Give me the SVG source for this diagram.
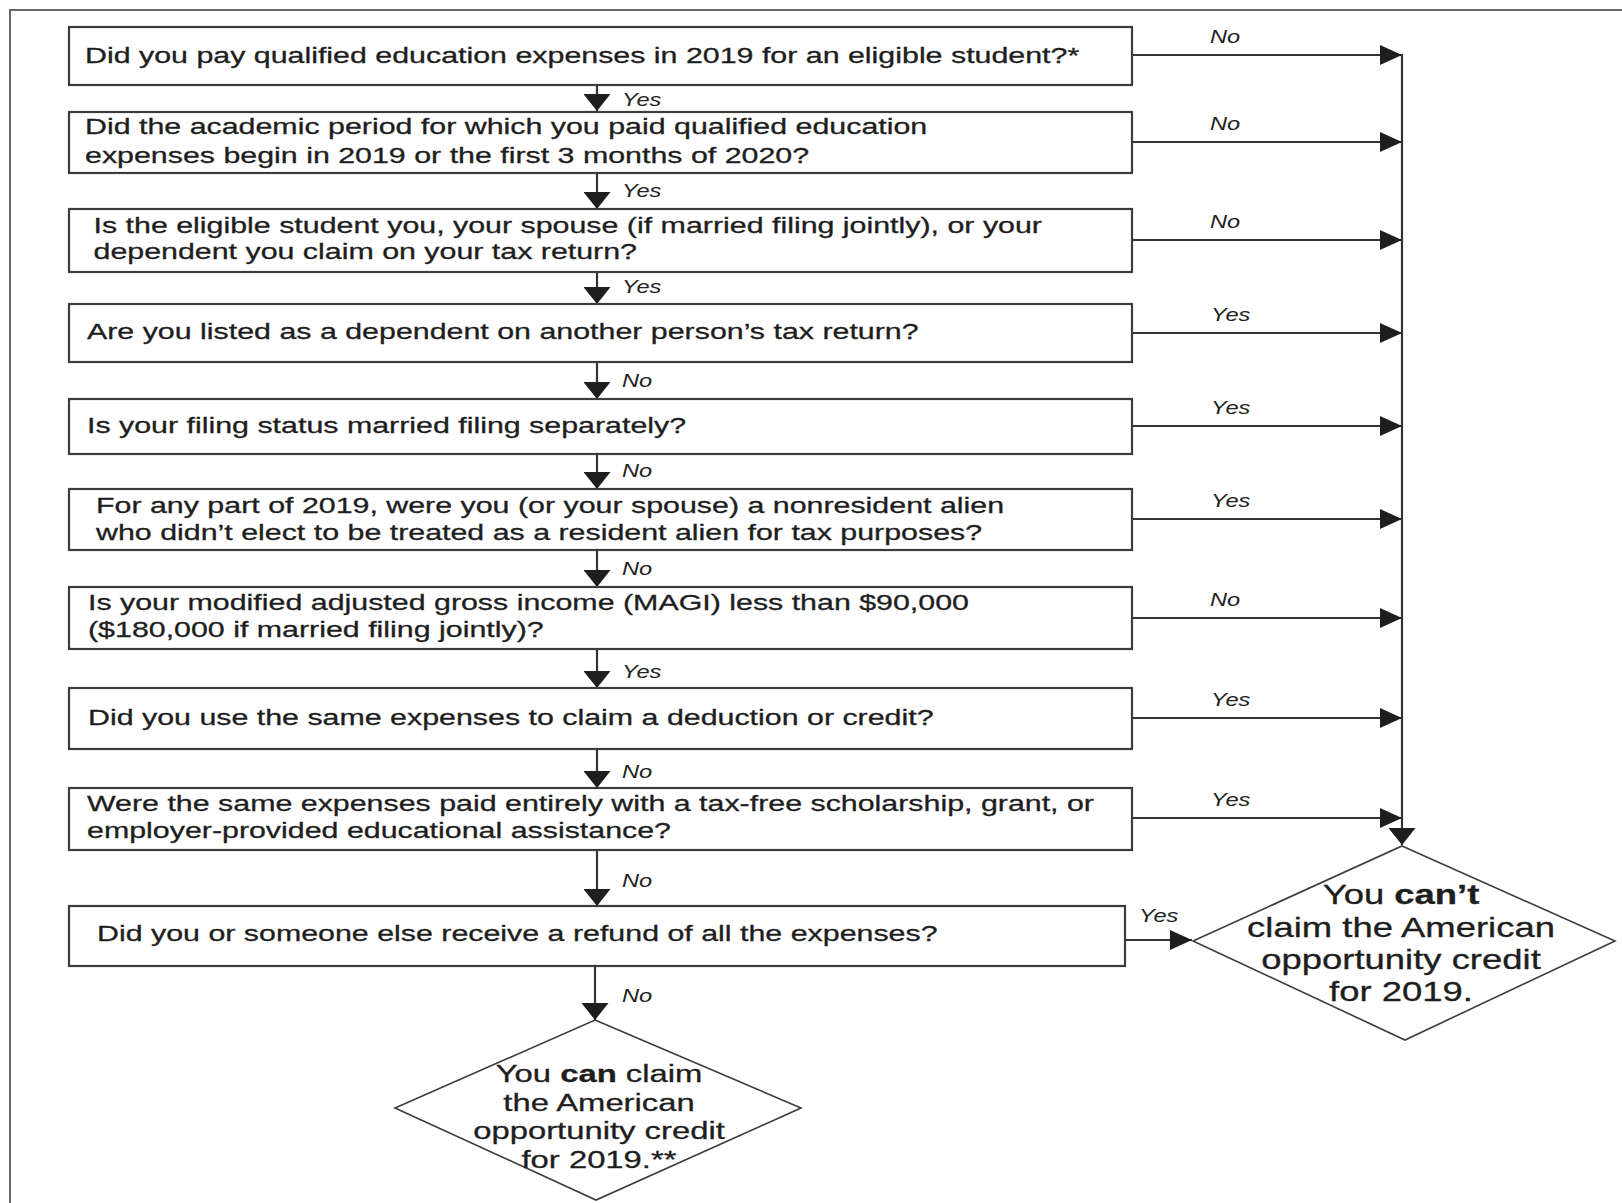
<svg xmlns="http://www.w3.org/2000/svg" width="1622" height="1203" viewBox="0 0 1622 1203">
<style>
.box{fill:#fff;stroke:#3c3c3c;stroke-width:2.2}
.dia{fill:#fff;stroke:#3c3c3c;stroke-width:1.6}
.t{font-family:"Liberation Sans",Arial,Helvetica,sans-serif;font-size:22.5px;fill:#1e1e1e;stroke:#1e1e1e;stroke-width:0.3}
.d{font-family:"Liberation Sans",Arial,Helvetica,sans-serif;fill:#1e1e1e;stroke:#1e1e1e;stroke-width:0.3;text-anchor:middle}
.lbl{font-family:"Liberation Sans",Arial,Helvetica,sans-serif;font-size:17.5px;font-style:italic;fill:#222}
.c{stroke:#333;stroke-width:2.2;fill:none}
.frame{stroke:#666;stroke-width:2;fill:none}
</style>
<defs>
<marker id="aR" markerUnits="userSpaceOnUse" markerWidth="23" markerHeight="20" refX="22" refY="10" orient="auto"><path d="M0,0 L22,10 L0,20 Z" fill="#1e1e1e"/></marker>
<marker id="aD" markerUnits="userSpaceOnUse" markerWidth="18" markerHeight="27" refX="17" refY="13.5" orient="auto"><path d="M0,0 L17,13.5 L0,27 Z" fill="#1e1e1e"/></marker>
</defs>
<path class="frame" d="M10,1203 V10 H1622"/>

<g id="connectors">
<path class="c" d="M597,85 V111" marker-end="url(#aD)"/>
<path class="c" d="M597,173 V209" marker-end="url(#aD)"/>
<path class="c" d="M597,272 V304" marker-end="url(#aD)"/>
<path class="c" d="M597,362 V399" marker-end="url(#aD)"/>
<path class="c" d="M597,454 V489" marker-end="url(#aD)"/>
<path class="c" d="M597,550 V587" marker-end="url(#aD)"/>
<path class="c" d="M597,649 V688" marker-end="url(#aD)"/>
<path class="c" d="M597,749 V788" marker-end="url(#aD)"/>
<path class="c" d="M597,850 V906" marker-end="url(#aD)"/>
<path class="c" d="M595,966 V1020" marker-end="url(#aD)"/>
<path class="c" d="M1132,55 H1402" marker-end="url(#aR)"/>
<path class="c" d="M1132,142 H1402" marker-end="url(#aR)"/>
<path class="c" d="M1132,240 H1402" marker-end="url(#aR)"/>
<path class="c" d="M1132,333 H1402" marker-end="url(#aR)"/>
<path class="c" d="M1132,426 H1402" marker-end="url(#aR)"/>
<path class="c" d="M1132,519 H1402" marker-end="url(#aR)"/>
<path class="c" d="M1132,618 H1402" marker-end="url(#aR)"/>
<path class="c" d="M1132,718 H1402" marker-end="url(#aR)"/>
<path class="c" d="M1132,818 H1402" marker-end="url(#aR)"/>
<path class="c" d="M1402,54 V845" marker-end="url(#aD)"/>
<path class="c" d="M1125,940 H1192" marker-end="url(#aR)"/>
<text class="lbl" transform="translate(622,106) scale(1.35,1)">Yes</text>
<text class="lbl" transform="translate(622,197) scale(1.35,1)">Yes</text>
<text class="lbl" transform="translate(622,293) scale(1.35,1)">Yes</text>
<text class="lbl" transform="translate(622,387) scale(1.35,1)">No</text>
<text class="lbl" transform="translate(622,477) scale(1.35,1)">No</text>
<text class="lbl" transform="translate(622,575) scale(1.35,1)">No</text>
<text class="lbl" transform="translate(622,678) scale(1.35,1)">Yes</text>
<text class="lbl" transform="translate(622,778) scale(1.35,1)">No</text>
<text class="lbl" transform="translate(622,887) scale(1.35,1)">No</text>
<text class="lbl" transform="translate(622,1002) scale(1.35,1)">No</text>
<text class="lbl" transform="translate(1210,43) scale(1.35,1)">No</text>
<text class="lbl" transform="translate(1210,130) scale(1.35,1)">No</text>
<text class="lbl" transform="translate(1210,228) scale(1.35,1)">No</text>
<text class="lbl" transform="translate(1211,321) scale(1.35,1)">Yes</text>
<text class="lbl" transform="translate(1211,414) scale(1.35,1)">Yes</text>
<text class="lbl" transform="translate(1211,507) scale(1.35,1)">Yes</text>
<text class="lbl" transform="translate(1210,606) scale(1.35,1)">No</text>
<text class="lbl" transform="translate(1211,706) scale(1.35,1)">Yes</text>
<text class="lbl" transform="translate(1211,806) scale(1.35,1)">Yes</text>
<text class="lbl" transform="translate(1139,922) scale(1.35,1)">Yes</text>
</g>

<g id="q1"><rect class="box" x="69" y="27" width="1063" height="58"/>
<text class="t" transform="translate(85,62.7) scale(1.35,1)">Did you pay qualified education expenses in 2019 for an eligible student?*</text></g>
<g id="q2"><rect class="box" x="69" y="112" width="1063" height="61"/>
<text class="t" transform="translate(85,134.3) scale(1.35,1)">Did the academic period for which you paid qualified education</text>
<text class="t" transform="translate(85,162.5) scale(1.35,1)">expenses begin in 2019 or the first 3 months of 2020?</text></g>
<g id="q3"><rect class="box" x="69" y="209" width="1063" height="63"/>
<text class="t" transform="translate(93.5,232.7) scale(1.35,1)">Is the eligible student you, your spouse (if married filing jointly), or your</text>
<text class="t" transform="translate(93.5,259.3) scale(1.35,1)">dependent you claim on your tax return?</text></g>
<g id="q4"><rect class="box" x="69" y="304" width="1063" height="58"/>
<text class="t" transform="translate(87,339.3) scale(1.35,1)">Are you listed as a dependent on another person’s tax return?</text></g>
<g id="q5"><rect class="box" x="69" y="399" width="1063" height="55"/>
<text class="t" transform="translate(87,432.7) scale(1.35,1)">Is your filing status married filing separately?</text></g>
<g id="q6"><rect class="box" x="69" y="489" width="1063" height="61"/>
<text class="t" transform="translate(96,513) scale(1.35,1)">For any part of 2019, were you (or your spouse) a nonresident alien</text>
<text class="t" transform="translate(96,539.5) scale(1.35,1)">who didn’t elect to be treated as a resident alien for tax purposes?</text></g>
<g id="q7"><rect class="box" x="69" y="587" width="1063" height="62"/>
<text class="t" transform="translate(88,610) scale(1.35,1)">Is your modified adjusted gross income (MAGI) less than $90,000</text>
<text class="t" transform="translate(88,636.7) scale(1.35,1)">($180,000 if married filing jointly)?</text></g>
<g id="q8"><rect class="box" x="69" y="688" width="1063" height="61"/>
<text class="t" transform="translate(88,724.7) scale(1.35,1)">Did you use the same expenses to claim a deduction or credit?</text></g>
<g id="q9"><rect class="box" x="69" y="788" width="1063" height="62"/>
<text class="t" transform="translate(87,811) scale(1.35,1)">Were the same expenses paid entirely with a tax-free scholarship, grant, or</text>
<text class="t" transform="translate(87,838) scale(1.35,1)">employer-provided educational assistance?</text></g>
<g id="q10"><rect class="box" x="69" y="906" width="1056" height="60"/>
<text class="t" transform="translate(97,941) scale(1.35,1)">Did you or someone else receive a refund of all the expenses?</text></g>

<g id="cant"><polygon class="dia" points="1402,846 1615,941 1405,1040 1193,941"/>
<text class="d" font-size="27" transform="translate(1401,904) scale(1.35,1)">You <tspan font-weight="bold">can’t</tspan></text>
<text class="d" font-size="27" transform="translate(1401,936.5) scale(1.35,1)">claim the American</text>
<text class="d" font-size="27" transform="translate(1401,968.5) scale(1.35,1)">opportunity credit</text>
<text class="d" font-size="27" transform="translate(1401,1000.5) scale(1.35,1)">for 2019.</text></g>

<g id="can"><polygon class="dia" points="595,1020 801,1108 596,1200 395,1108"/>
<text class="d" font-size="24.3" transform="translate(599,1081.7) scale(1.35,1)">You <tspan font-weight="bold">can</tspan> claim</text>
<text class="d" font-size="24.3" transform="translate(599,1110.7) scale(1.35,1)">the American</text>
<text class="d" font-size="24.3" transform="translate(599,1139.3) scale(1.35,1)">opportunity credit</text>
<text class="d" font-size="24.3" transform="translate(599,1168.3) scale(1.35,1)">for 2019.**</text></g>
</svg>
